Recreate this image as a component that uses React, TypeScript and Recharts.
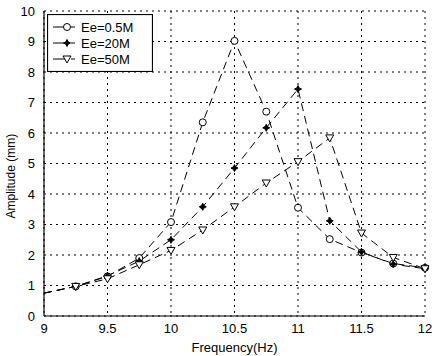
import React from "react";
import { LineChart, Line, XAxis, YAxis, CartesianGrid } from "recharts";

const freq = [9, 9.25, 9.5, 9.75, 10, 10.25, 10.5, 10.75, 11, 11.25, 11.5, 11.75, 12];
const e05 = [0.75, 0.97, 1.3, 1.9, 3.08, 6.35, 9.02, 6.7, 3.55, 2.52, 2.08, 1.72, 1.58];
const e20 = [0.75, 0.97, 1.32, 1.8, 2.5, 3.58, 4.85, 6.17, 7.44, 3.12, 2.1, 1.7, 1.55];
const e50 = [0.75, 0.97, 1.22, 1.68, 2.15, 2.82, 3.58, 4.36, 5.06, 5.84, 2.72, 1.92, 1.55];
const xTicks = [9, 9.5, 10, 10.5, 11, 11.5, 12];
const yTicks = [0, 1, 2, 3, 4, 5, 6, 7, 8, 9, 10];
const names = ["Ee=0.5M", "Ee=20M", "Ee=50M"];

const data = freq.map((f, i) => ({ f, a: e05[i], b: e20[i], c: e50[i] }));

const FONT = "'Liberation Sans', Arial, sans-serif";

function Marker({ kind, cx, cy }: { kind: string; cx: number; cy: number }) {
  if (kind === "circle") {
    return <circle cx={cx} cy={cy} r={3.5} fill="#fff" stroke="#000" strokeWidth={1} />;
  }
  if (kind === "star") {
    const r = 3.5;
    return (
      <path
        d={`M${cx},${cy - r} L${cx + 1.2},${cy - 1.2} L${cx + r},${cy} L${cx + 1.2},${cy + 1.2} L${cx},${cy + r} L${cx - 1.2},${cy + 1.2} L${cx - r},${cy} L${cx - 1.2},${cy - 1.2} Z`}
        fill="#000"
        stroke="#000"
        strokeWidth={1}
      />
    );
  }
  return (
    <path
      d={`M${cx - 4},${cy - 3} L${cx + 4},${cy - 3} L${cx},${cy + 4} Z`}
      fill="#fff"
      stroke="#000"
      strokeWidth={1}
    />
  );
}

const makeDot = (kind: string) => (props: any) => {
  const { cx, cy, payload, index } = props;
  if (payload.f === 9) return <g key={`d${kind}${index}`} />;
  return (
    <g key={`d${kind}${index}`}>
      <Marker kind={kind} cx={cx} cy={cy} />
    </g>
  );
};

const kinds = ["circle", "star", "triangle"];

const LegendBox = () => (
  <svg width={106} height={58} style={{ display: "block" }}>
    <rect x={0.5} y={0.5} width={105} height={57} fill="#fff" stroke="#000" strokeWidth={1.2} />
    {names.map((n, i) => {
      const y = 13 + i * 16;
      return (
        <g key={n}>
          <line x1={6} y1={y} x2={20} y2={y} stroke="#000" strokeWidth={1} />
          <line x1={24} y1={y} x2={28} y2={y} stroke="#000" strokeWidth={1} />
          <Marker kind={kinds[i]} cx={20} cy={y} />
          <text x={34} y={y + 4.5} fontSize={13} fontFamily={FONT} fill="#000">
            {n}
          </text>
        </g>
      );
    })}
  </svg>
);

export default function App() {
  return (
    <div style={{ position: "absolute", left: 0, top: 0, width: 432, height: 356, background: "#fff" }}>
      <LineChart width={432} height={356} data={data} margin={{ top: 11, right: 7, bottom: 0, left: 0 }}>
        <CartesianGrid stroke="#000" strokeDasharray="2 4" strokeWidth={1} />
        <XAxis
          dataKey="f"
          type="number"
          domain={[9, 12]}
          ticks={xTicks}
          tick={{ fill: "#000", fontSize: 13, fontFamily: FONT }}
          tickLine={false}
          axisLine={{ stroke: "#000", strokeWidth: 1.2 }}
          height={40}
          tickMargin={2}
          label={{ value: "Frequency(Hz)", position: "insideBottom", offset: 4, fill: "#000", fontSize: 13, fontFamily: FONT }}
        />
        <XAxis xAxisId="top" orientation="top" dataKey="f" type="number" domain={[9, 12]} tick={false} tickLine={false} height={0} axisLine={{ stroke: "#000", strokeWidth: 1.2 }} />
        <YAxis
          type="number"
          domain={[0, 10]}
          ticks={yTicks}
          tick={{ fill: "#000", fontSize: 13, fontFamily: FONT }}
          tickLine={false}
          axisLine={{ stroke: "#000", strokeWidth: 1.2 }}
          width={44}
          tickMargin={3}
          label={{ value: "Amplitude (mm)", angle: -90, position: "insideLeft", offset: 11, dy: 55, fill: "#000", fontSize: 12, fontFamily: FONT }}
        />
        <YAxis yAxisId="right" orientation="right" domain={[0, 10]} tick={false} tickLine={false} width={0} axisLine={{ stroke: "#000", strokeWidth: 1.2 }} />
        <Line dataKey="a" name={names[0]} stroke="#000" strokeWidth={1} strokeDasharray="8 5" dot={makeDot("circle")} isAnimationActive={false} />
        <Line dataKey="b" name={names[1]} stroke="#000" strokeWidth={1} strokeDasharray="8 5" dot={makeDot("star")} isAnimationActive={false} />
        <Line dataKey="c" name={names[2]} stroke="#000" strokeWidth={1} strokeDasharray="8 5" dot={makeDot("triangle")} isAnimationActive={false} />
      </LineChart>
      <div style={{ position: "absolute", left: 47, top: 14 }}>
        <LegendBox />
      </div>
    </div>
  );
}
